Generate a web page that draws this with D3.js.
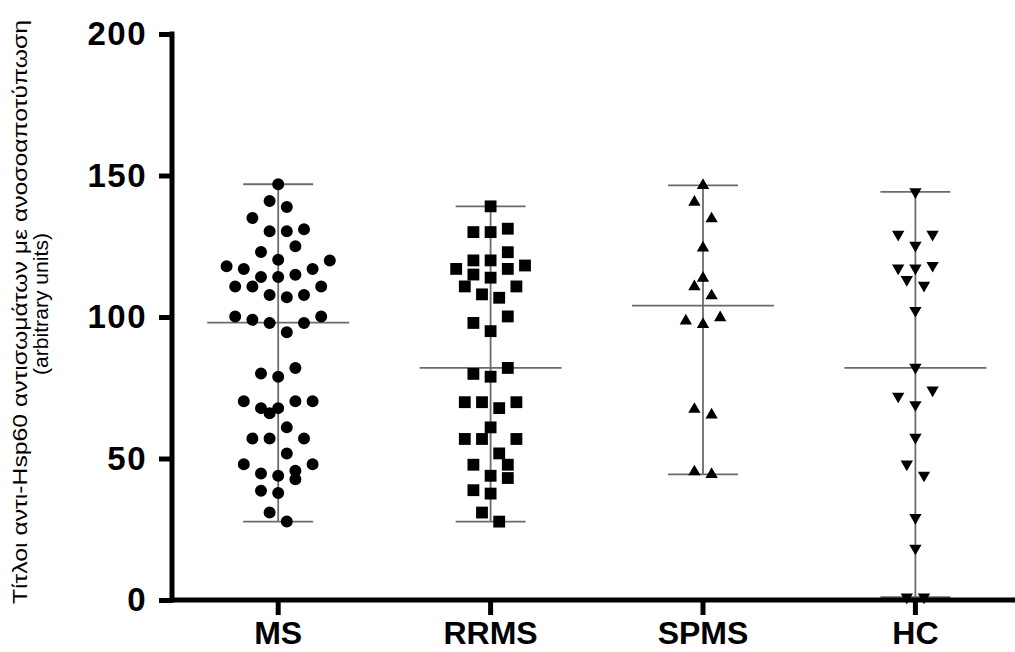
<!DOCTYPE html>
<html>
<head>
<meta charset="utf-8">
<script src="https://cdn.jsdelivr.net/npm/d3@7"></script>
<style>
  html, body { margin: 0; padding: 0; background: #fff; }
  svg { display: block; }
</style>
</head>
<body>
<svg id="chart" width="1015" height="652"></svg>
<script>
// Groups shown on the x axis
const groups = ["MS", "RRMS", "SPMS", "HC"];

// Antibody titres per subject (arbitrary units)
const msValues = [
  146.9, 141, 138.9, 135, 131, 130.3, 130.3, 125, 123, 120.2, 120,
  117.9, 117, 117, 114.9, 114.1, 114.1, 110.8, 110.8, 110.8, 107.8, 107.8, 107,
  100.2, 100.2, 99, 97.9, 97.9, 94.6, 82, 80, 78.9, 70.2, 70.2, 70.2,
  67.8, 67.8, 66, 61, 57.1, 57.1, 57.1, 51.8, 48, 48, 45.7, 44.7, 43.9,
  42.7, 38.6, 37.8, 30.9, 27.7
];
const rrmsValues = [
  139.1, 131.2, 130, 130, 122.9, 120, 120, 118.2, 117, 117, 115, 113.9,
  110.8, 110.8, 108, 106.8, 100.2, 97.9, 95, 82, 79.9, 78.9, 69.9, 69.9, 69.9,
  67.8, 61, 56.9, 56.9, 56.9, 51.8, 47.8, 47.8, 43.9, 43.1, 38.8, 37.6, 30.9, 27.7
];
const spmsValues = [
  146.5, 140.6, 134.7, 124.4, 113.7, 110.7, 107.5, 99.8, 98.6, 97.4,
  67.4, 65.4, 45.3, 44.4
];
const hcValues = [
  144.2, 129.2, 129.2, 125.3, 118.2, 117.3, 117.3, 113.2, 111.2, 102.3,
  82.2, 74.2, 72, 69, 57.5, 48, 44.1, 29.1, 18.3, 1, 1
];

// Central line drawn across each group
const centerValues = [98, 82, 104, 82];

// Y axis ticks
const yTicks = [0, 50, 100, 150, 200];

const seriesValues = [msValues, rrmsValues, spmsValues, hcValues];
const symbolTypes = [d3.symbolCircle, d3.symbolSquare, d3.symbolTriangle, d3.symbolTriangle];
const symbolSizes = [113, 140, 66, 66];
const symbolRotate = [0, 0, 0, 180];

const svg = d3.select("#chart");

const x = d3.scaleBand().domain(groups).range([172, 172 + 4 * 212.4]).paddingInner(0).paddingOuter(0);
const y = d3.scaleLinear().domain([0, 200]).range([600, 34]);

// Scatter-dot layout: points are grouped into horizontal rows of similar value,
// then spread symmetrically around the group centre.
const rowHeight = 6;     // value units per row
const slotWidth = 17.2;  // px between neighbouring symbols in a row
function layoutRows(values) {
  const sorted = values.map((v, i) => ({ v, i })).sort((a, b) => a.v - b.v);
  const rows = [];
  let current = null;
  for (const p of sorted) {
    if (!current || p.v > current.start + rowHeight) {
      current = { start: p.v, items: [] };
      rows.push(current);
    }
    current.items.push(p);
  }
  const out = [];
  for (const row of rows) {
    const n = row.items.length;
    row.items.forEach((p, k) => {
      let slot;
      if (n % 2 === 1) {
        const m = Math.ceil(k / 2);
        slot = k === 0 ? 0 : (k % 2 === 1 ? -m : m);
      } else {
        const m = Math.floor(k / 2) + 0.5;
        slot = k % 2 === 0 ? m : -m;
      }
      out.push({ v: p.v, dx: slot * slotWidth });
    });
  }
  return out;
}

const lineColor = "#6b6b6b";
const lineWidth = 1.8;
const whiskerHalf = 35;
const centerHalf = 71;

groups.forEach((g, gi) => {
  const cx = x(g) + x.bandwidth() / 2;
  const vals = seriesValues[gi];
  const [lo, hi] = d3.extent(vals);
  const grp = svg.append("g").attr("class", "group-" + g);

  grp.append("line")
    .attr("x1", cx).attr("x2", cx)
    .attr("y1", y(lo)).attr("y2", y(hi))
    .attr("stroke", lineColor).attr("stroke-width", lineWidth);
  [lo, hi].forEach(v => {
    grp.append("line")
      .attr("x1", cx - whiskerHalf).attr("x2", cx + whiskerHalf)
      .attr("y1", y(v)).attr("y2", y(v))
      .attr("stroke", lineColor).attr("stroke-width", lineWidth);
  });
  grp.append("line")
    .attr("x1", cx - centerHalf).attr("x2", cx + centerHalf)
    .attr("y1", y(centerValues[gi])).attr("y2", y(centerValues[gi]))
    .attr("stroke", lineColor).attr("stroke-width", lineWidth);

  const sym = d3.symbol().type(symbolTypes[gi]).size(symbolSizes[gi]);
  grp.selectAll("path.pt")
    .data(layoutRows(vals))
    .join("path")
    .attr("class", "pt")
    .attr("d", sym)
    .attr("fill", "#000")
    .attr("transform", d => `translate(${cx + d.dx},${y(d.v)}) rotate(${symbolRotate[gi]})`);
});

// Axes
const yAxis = d3.axisLeft(y).tickValues(yTicks).tickSize(13).tickPadding(12).tickSizeOuter(0);
const gy = svg.append("g").attr("transform", "translate(172,0)").call(yAxis);
gy.select(".domain").remove();
gy.selectAll(".tick line").attr("stroke", "#000").attr("stroke-width", 5);
gy.selectAll(".tick text")
  .attr("fill", "#000")
  .style("font-family", "'Liberation Sans', Arial, sans-serif")
  .style("font-weight", "bold")
  .style("font-size", "33px")
  .style("letter-spacing", "1.5px")
  .attr("dy", "0.33em");

const xAxis = d3.axisBottom(x).tickSize(15).tickPadding(6).tickSizeOuter(0);
const gx = svg.append("g").attr("transform", "translate(0,600)").call(xAxis);
gx.select(".domain").remove();
gx.selectAll(".tick line").attr("stroke", "#000").attr("stroke-width", 5);
gx.selectAll(".tick text")
  .attr("fill", "#000")
  .style("font-family", "'Liberation Sans', Arial, sans-serif")
  .style("font-weight", "bold")
  .style("font-size", "32px");

// Axis lines
svg.append("line")
  .attr("x1", 172).attr("x2", 172)
  .attr("y1", y(200) - 2.5).attr("y2", y(0) + 2.5)
  .attr("stroke", "#000").attr("stroke-width", 5);
svg.append("line")
  .attr("x1", 169.5).attr("x2", 1015)
  .attr("y1", y(0)).attr("y2", y(0))
  .attr("stroke", "#000").attr("stroke-width", 5);

// Y axis title (two lines, rotated)
const titleY = 312;
svg.append("text")
  .attr("transform", `translate(27,${titleY}) rotate(-90)`)
  .attr("text-anchor", "middle")
  .attr("textLength", 584)
  .attr("lengthAdjust", "spacingAndGlyphs")
  .style("font-family", "'Liberation Sans', Arial, sans-serif")
  .style("font-size", "20px")
  .attr("fill", "#000")
  .text("Τίτλοι αντι-Hsp60 αντισωμάτων με ανοσοαποτύπωση");
svg.append("text")
  .attr("transform", `translate(48,${titleY - 8}) rotate(-90)`)
  .attr("text-anchor", "middle")
  .attr("textLength", 142)
  .attr("lengthAdjust", "spacingAndGlyphs")
  .style("font-family", "'Liberation Sans', Arial, sans-serif")
  .style("font-size", "20px")
  .attr("fill", "#000")
  .text("(arbitrary units)");
</script>
</body>
</html>
